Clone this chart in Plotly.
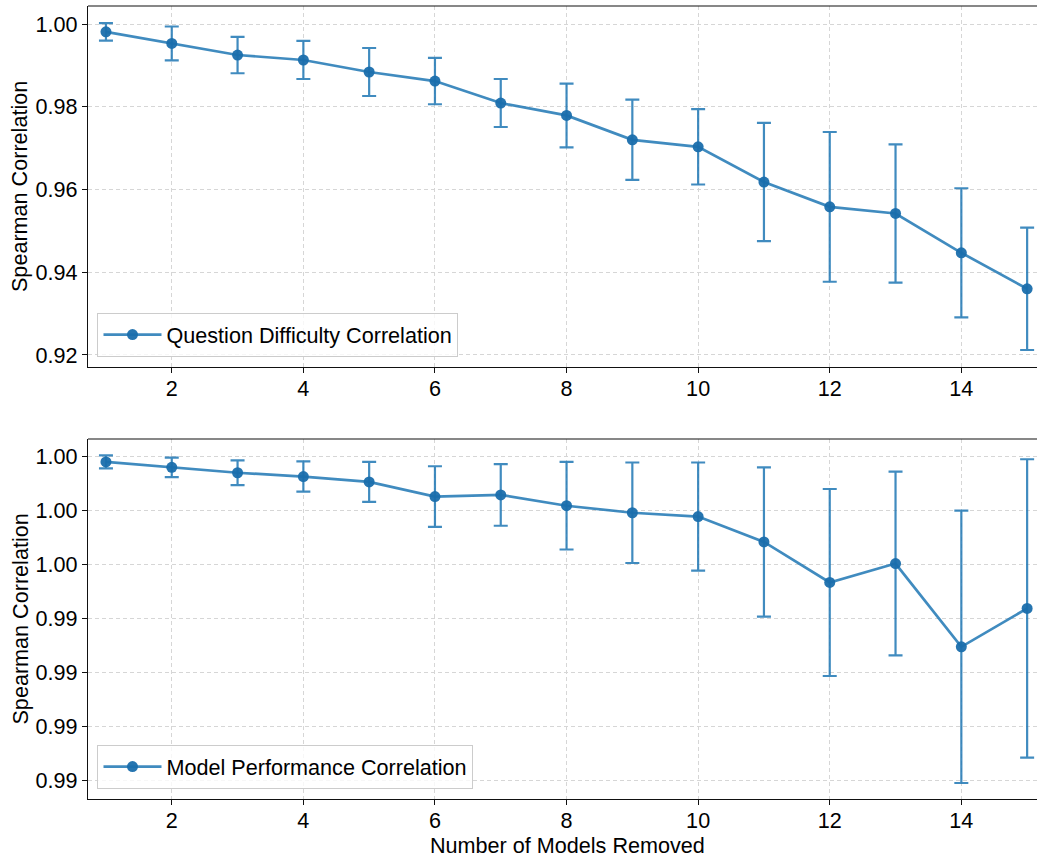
import plotly.graph_objects as go
from plotly.subplots import make_subplots

models_removed = list(range(1, 16))

difficulty_corr = [0.9981, 0.9953, 0.9925, 0.9913, 0.9884, 0.9862, 0.9809, 0.9779,
                   0.9720, 0.9703, 0.9618, 0.9558, 0.9542, 0.9447, 0.9360]
difficulty_err = [0.0021, 0.0041, 0.0044, 0.0046, 0.0058, 0.0056, 0.0058, 0.0077,
                  0.0097, 0.0091, 0.0143, 0.0181, 0.0167, 0.0156, 0.0148]

performance_corr = [0.99789, 0.99779, 0.99769, 0.99762, 0.99752, 0.99725, 0.99728, 0.99708,
                    0.99695, 0.99688, 0.99641, 0.99566, 0.99601, 0.99447, 0.99518]
performance_err = [0.00012, 0.00018, 0.00023, 0.00028, 0.00037, 0.00056, 0.00057, 0.00081,
                   0.00093, 0.00100, 0.00138, 0.00173, 0.00170, 0.00252, 0.00276]

top_ticks = [0.92, 0.94, 0.96, 0.98, 1.00]
bottom_ticks = [0.998, 0.997, 0.996, 0.995, 0.994, 0.993, 0.992]
x_ticks = [2, 4, 6, 8, 10, 12, 14]

COLOR = "rgba(31,119,180,0.85)"
MCOLOR = "rgba(26,110,172,0.95)"
FONT = "Liberation Sans, Arial, sans-serif"
FS = 21.6

fig = make_subplots(rows=2, cols=1, vertical_spacing=0.09)

fig.add_trace(go.Scatter(
    x=models_removed, y=difficulty_corr,
    error_y=dict(type="data", array=difficulty_err, color=COLOR, thickness=2.2, width=7),
    mode="lines+markers", line=dict(color=COLOR, width=2.7),
    marker=dict(color=MCOLOR, size=11),
    name="Question Difficulty Correlation", legend="legend", showlegend=True), row=1, col=1)

fig.add_trace(go.Scatter(
    x=models_removed, y=performance_corr,
    error_y=dict(type="data", array=performance_err, color=COLOR, thickness=2.2, width=7),
    mode="lines+markers", line=dict(color=COLOR, width=2.7),
    marker=dict(color=MCOLOR, size=11),
    name="Model Performance Correlation", legend="legend2", showlegend=True), row=2, col=1)

axis_common = dict(
    showline=True, linecolor="#111", linewidth=1.2, mirror=False,
    ticks="outside", ticklen=5, tickwidth=1.2, tickcolor="#111",
    showgrid=True, gridcolor="#d6d6d6", griddash="4px,3px", gridwidth=1,
    zeroline=False, tickfont=dict(family=FONT, size=FS, color="#000"),
)

xrange = [0.727, 15.15]
fig.update_xaxes(**axis_common)
fig.update_yaxes(**axis_common)

fig.update_xaxes(range=xrange, tickvals=x_ticks, domain=[0, 1], ticklabelstandoff=-3,
                 row=1, col=1)
fig.update_xaxes(range=xrange, tickvals=x_ticks, domain=[0, 1], ticklabelstandoff=-3,
                 row=2, col=1)

fig.update_yaxes(range=[0.9171, 1.00435], tickvals=top_ticks,
                 ticktext=[f"{v:.2f}" for v in top_ticks],
                 domain=[0.5448, 1.0], row=1, col=1)
fig.update_yaxes(range=[0.991654, 0.998315], tickvals=bottom_ticks,
                 ticktext=[f"{v:.2f}" for v in bottom_ticks],
                 domain=[0.0, 0.454], row=2, col=1)

fig.add_shape(type="line", xref="paper", yref="paper", x0=0, x1=1, y0=1, y1=1,
              line=dict(color="#111", width=1.2))
fig.add_shape(type="line", xref="paper", yref="paper", x0=0, x1=1, y0=0.454, y1=0.454,
              line=dict(color="#111", width=1.2))

L, T, B = 87.5, 6, 60
PW = 1037 - L
PH = 859 - T - B

def px_x(p):
    return (p - L) / PW

def px_y(p):
    return (859 - B - p) / PH

legend_common = dict(
    font=dict(family=FONT, size=FS, color="#000"),
    bgcolor="rgba(255,255,255,0.8)", bordercolor="#cccccc", borderwidth=1,
    xanchor="left", yanchor="bottom", itemwidth=58, tracegroupgap=0,
)

fig.update_layout(
    width=1037, height=859,
    showlegend=True,
    margin=dict(l=L, r=0, t=T, b=B),
    paper_bgcolor="white", plot_bgcolor="white",
    font=dict(family=FONT, size=FS, color="#000"),
    legend=dict(x=px_x(97), y=px_y(357), **legend_common),
    legend2=dict(x=px_x(97), y=px_y(789), **legend_common),
    annotations=[
        dict(text="Spearman Correlation", textangle=-90, xref="paper", yref="paper",
             x=px_x(19), y=px_y(186.5), xanchor="center", yanchor="middle",
             showarrow=False, font=dict(family=FONT, size=FS, color="#000")),
        dict(text="Spearman Correlation", textangle=-90, xref="paper", yref="paper",
             x=px_x(19), y=px_y(619), xanchor="center", yanchor="middle",
             showarrow=False, font=dict(family=FONT, size=FS, color="#000")),
        dict(text="Number of Models Removed", xref="paper", yref="paper",
             x=px_x(567), y=px_y(846), xanchor="center", yanchor="middle",
             showarrow=False, font=dict(family=FONT, size=FS, color="#000")),
    ],
)

fig.write_html("out.html")
